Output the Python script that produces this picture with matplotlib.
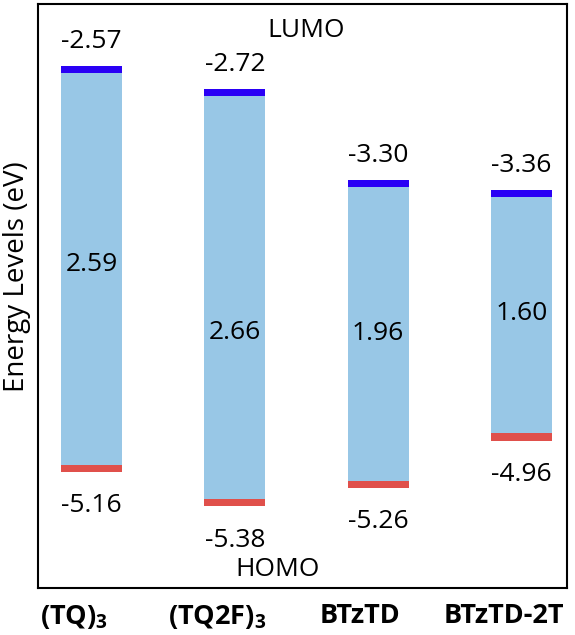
import matplotlib.pyplot as plt
from matplotlib.transforms import ScaledTranslation
import numpy as np

plt.rcParams['font.family'] = ['Open Sans', 'DejaVu Sans']
plt.rcParams['mathtext.fontset'] = 'custom'
plt.rcParams['mathtext.bf'] = 'Open Sans:bold'
plt.rcParams['mathtext.rm'] = 'Open Sans'

names = [r'(TQ)$_\mathbf{3}$', r'(TQ2F)$_\mathbf{3}$', 'BTzTD', 'BTzTD-2T']
lumo = np.array([-2.57, -2.72, -3.30, -3.36])
homo = np.array([-5.16, -5.38, -5.26, -4.96])
gap = ['2.59', '2.66', '1.96', '1.60']
gap_y = [-3.84, -4.27, -4.28, -4.15]  # where the gap text sits

thick = 0.045
x = np.arange(len(names))
w = 0.427

fig = plt.figure(figsize=(5.75, 6.35), dpi=100)
ax = fig.add_axes([38/575, 1-588/635, (567-38)/575, (588-4)/635])

ax.bar(x, (lumo - thick) - (homo + thick), bottom=homo + thick, width=w, color='#98c7e6')
ax.bar(x, thick, bottom=lumo - thick, width=w, color='#2a00f5')
ax.bar(x, thick, bottom=homo, width=w, color='#e0504b')

for i in range(len(x)):
    ax.annotate(f'{lumo[i]:.2f}', (x[i], lumo[i]), xytext=(0, 13), textcoords='offset points',
                ha='center', va='baseline', fontsize=19)
    ax.annotate(f'{homo[i]:.2f}', (x[i], homo[i]), xytext=(0, -29), textcoords='offset points',
                ha='center', va='baseline', fontsize=19)
    ax.text(x[i], gap_y[i], gap[i], ha='center', va='center', fontsize=19)

ax.text(1.5, -2.343, 'LUMO', ha='center', va='center', fontsize=19)
ax.text(1.3, -5.782, 'HOMO', ha='center', va='center', fontsize=19)

ax.set_xlim(-0.374, 3.318)
ax.set_ylim(-5.90, -2.177)
ax.set_xticks(x)
ax.set_xticklabels(names, fontsize=19.5, fontweight='bold')
ax.tick_params(axis='x', length=0, pad=11)
shift = ScaledTranslation(-0.18, 0, fig.dpi_scale_trans)
for lab in ax.get_xticklabels():
    lab.set_transform(lab.get_transform() + shift)
ax.set_yticks([])
ax.set_ylabel('Energy Levels (eV)', fontsize=20)
ax.yaxis.set_label_coords(-0.014, 0.533)
for s in ax.spines.values():
    s.set_linewidth(1.5)

plt.savefig('out.png')
